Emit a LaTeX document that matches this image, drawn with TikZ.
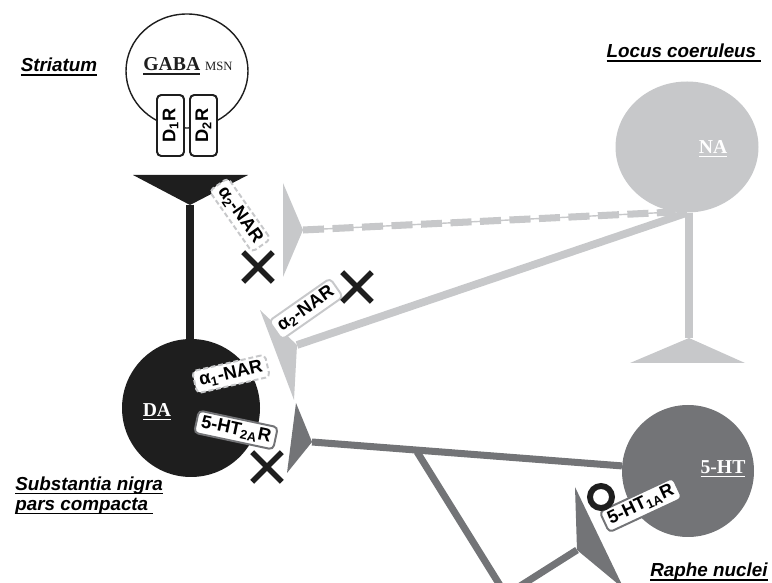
\documentclass[tikz,border=0pt]{standalone}
\usepackage{fontspec}
\setmainfont{Liberation Serif}
\setsansfont{Liberation Sans}
\usetikzlibrary{shapes.geometric,shapes.misc}
\definecolor{nagray}{HTML}{C7C8CA}
\definecolor{htgray}{HTML}{737477}
\definecolor{daink}{HTML}{1E1E1E}
\newcommand{\ulabel}[1]{\setbox0=\hbox{#1}\rlap{\rule[-2.8pt]{\wd0}{1.1pt}}\box0}
\begin{document}
\begin{tikzpicture}[
    region/.style ={inner sep=0pt, font=\sffamily\bfseries\itshape\fontsize{13.4}{14.2}\selectfont},
    cellname/.style ={text=white, inner sep=0pt, font=\rmfamily\bfseries\fontsize{14}{16}\selectfont},
    receptor/.style ={draw, fill=white, rounded corners=3pt, line width=1.4pt, inner xsep=3.5pt, inner ysep=2.5pt,
       font=\sffamily\bfseries\fontsize{13}{13}\selectfont},
    dreceptor/.style ={receptor, draw=daink, rotate=90, minimum width=1.525cm, minimum height=0.675cm},
    nadash/.style ={draw=nagray, dash pattern=on 3.5pt off 2pt},
    naline/.style ={nagray, line width=5.5pt},
    htline/.style ={htgray, line width=5pt},
    block/.style ={cross out, draw=daink, line width=4pt, minimum size=0.6cm, inner sep=0pt},
    ring/.style ={circle, draw=daink, line width=4.2pt, minimum size=0.55cm, inner sep=0pt}]
   \path[use as bounding box, clip] (0,0) rectangle (19.3,14.575);

   \coordinate (msnT) at (4.75,9.45);
   \coordinate (t1) at (7.575,8.825);
   \coordinate (t2) at (7.425,5.95);
   \coordinate (naT) at (17.225,6.125);
   \coordinate (t3) at (7.8,3.525);
   \coordinate (fork) at (10.425,3.28);
   \coordinate (t4) at (14.425,0.825);
   \coordinate (below) at (12.65,-0.3);

   \node[ellipse, draw=daink, line width=1pt, fill=white, minimum width=3.05cm, minimum height=2.85cm] (MSN) at (4.675,12.8) {};
   \node[ellipse, fill=nagray, minimum width=3.575cm, minimum height=3.275cm, inner sep=0pt] (NA) at (17.175,10.9) {};
   \node[circle, fill=htgray, minimum size=3.3cm, inner sep=0pt] (HT) at (17.2,2.8) {};
   \node[circle, fill=daink, minimum size=3.45cm, inner sep=0pt] (DA) at (4.775,4.375) {};

   \draw[daink, line width=5.5pt] (msnT) to (msnT |- DA.north);
   \draw[nagray, line width=1pt] (t1) to (NA.-100);
   \draw[nagray, line width=5pt, dash pattern=on 15pt off 6pt] (t1) to (NA.-100);
   \draw[naline] (t2) to (NA.south);
   \draw[naline] (NA.south -| naT) to (naT);
   \draw[htline] (t3) to (HT);
   \draw[htline] (fork) to (below);
   \draw[htline] (t4) to (below);

   \fill[daink] (3.325,10.2) -- (6.2,10.2) -- (msnT) -- cycle;
   \fill[nagray] (7.075,10.0) -- (7.075,7.65) -- (t1) -- cycle;
   \fill[nagray] (6.5,6.825) -- (7.35,4.575) -- (t2) -- cycle;
   \fill[nagray] (15.75,5.5) -- (18.625,5.5) -- (naT) -- cycle;
   \fill[htgray] (7.4,4.5) -- (7.175,2.75) -- (t3) -- cycle;
   \fill[htgray] (14.375,2.4) -- (15.6,-0.15) -- (t4) -- cycle;

   \node[cellname, text=daink, anchor=base] (GABAname) at (4.7,12.8) {\ulabel{GABA}~{\mdseries\fontsize{9}{10}\selectfont MSN}};
   \node[cellname] (DAname) at (3.925,4.275) {\ulabel{DA}};
   \node[cellname] (NAname) at (17.825,10.85) {\ulabel{NA}};
   \node[cellname] (HTname) at (18.075,2.85) {\ulabel{5-HT}};

   \node[dreceptor] (D1) at (4.2625,11.4375) {D\textsubscript{1}R};
   \node[dreceptor] (D2) at (5.0875,11.4375) {D\textsubscript{2}R};
   \node[receptor, nadash, rotate=-55] (a2top) at (6.0,9.2) {α\textsubscript{2}-NAR};
   \node[receptor, draw=nagray, rotate=35] (a2low) at (7.65,6.85) {α\textsubscript{2}-NAR};
   \node[receptor, nadash, rotate=13] (a1) at (5.775,5.225) {α\textsubscript{1}-NAR};
   \node[receptor, draw=htgray, rotate=-12] (ht2a) at (5.9,3.825) {5-HT\textsubscript{2A}R};
   \node[receptor, draw=htgray, rotate=25] (ht1a) at (16.025,1.95) {5-HT\textsubscript{1A}R};

   \node[block] (x1) at (6.45,7.9) {};
   \node[block] (x2) at (8.925,7.4) {};
   \node[block] (x3) at (6.675,2.9) {};
   \node[ring] (o1) at (15.025,2.15) {};

   \node[region] (striatum) at (1.475,12.9) {\ulabel{Striatum}};
   \node[region] (locus) at (17.1,13.25) {\ulabel{Locus coeruleus\ }};
   \node[region, align=left, anchor=north west] (nigra) at (0.375,2.66) {\ulabel{Substantia nigra}\\\ulabel{pars compacta\ }};
   \node[region] (raphe) at (17.725,0.275) {\ulabel{Raphe nuclei}};
\end{tikzpicture}
\end{document}
